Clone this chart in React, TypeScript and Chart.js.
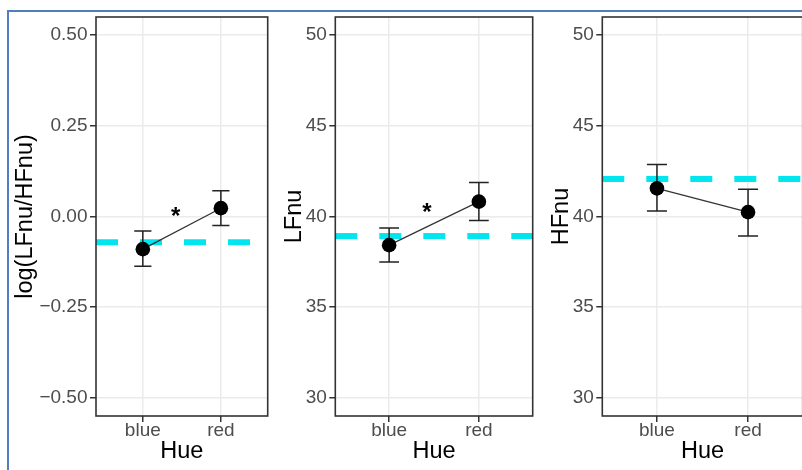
import React, { useEffect, useRef } from "react";
import { Chart, registerables } from "chart.js";

Chart.register(...registerables);

// ---------- data ----------
const CATEGORIES = ["blue", "red"];
const CAT_X = [1, 2];
const X_MIN = 0.4;
const X_MAX = 2.6;
const X_TITLE = "Hue";
const STAR_X = 1.42;

// panel 1: log(LFnu/HFnu)
const RATIO_TITLE = "log(LFnu/HFnu)";
const RATIO_MEAN = [-0.09, 0.023];
const RATIO_LOW = [-0.137, -0.025];
const RATIO_HIGH = [-0.04, 0.071];
const RATIO_REF = -0.071;
const RATIO_STAR = 0.017;
const RATIO_MIN = -0.55;
const RATIO_MAX = 0.55;
const RATIO_TICKS = [-0.5, -0.25, 0, 0.25, 0.5];
const RATIO_TICK_LABELS = ["\u22120.50", "\u22120.25", "0.00", "0.25", "0.50"];

// panel 2: LFnu
const LF_TITLE = "LFnu";
const LF_MEAN = [38.42, 40.82];
const LF_LOW = [37.49, 39.78];
const LF_HIGH = [39.36, 41.87];
const LF_REF = 38.92;
const LF_STAR = 40.58;

// panel 3: HFnu
const HF_TITLE = "HFnu";
const HF_MEAN = [41.55, 40.24];
const HF_LOW = [40.31, 38.92];
const HF_HIGH = [42.87, 41.5];
const HF_REF = 42.07;

// shared nu axis
const NU_MIN = 29;
const NU_MAX = 51;
const NU_TICKS = [30, 35, 40, 45, 50];
const NU_TICK_LABELS = ["30", "35", "40", "45", "50"];

// ---------- styles ----------
const FONT = '"Liberation Sans", Arial, Helvetica, sans-serif';
const CYAN = "#00E5EE";
const TICK_SIZE = 19;
const TITLE_SIZE = 23.5;
const STAR_SIZE = 24;
const H = 470;
const PLOT_TOP = 17;
const PLOT_BOTTOM = 416;
const ERR_HALF = 0.11;

type PanelProps = {
  canvasLeft: number;
  canvasWidth: number;
  plotLeft: number;
  plotRight: number;
  titleCenter: number;
  yTitle: string;
  yMin: number;
  yMax: number;
  yTicks: number[];
  yTickLabels: string[];
  mean: number[];
  low: number[];
  high: number[];
  refValue: number;
  star: number | null;
};

function Panel(p: PanelProps) {
  const ref = useRef<HTMLCanvasElement | null>(null);
  useEffect(() => {
    const canvas = ref.current;
    if (!canvas) return;
    const plugin = {
      id: "panelExtras",
      afterDatasetDraw(chart: any, args: any) {
        if (args.index !== 1) return;
        const { ctx, scales } = chart;
        const xs = scales.x;
        const ys = scales.y;
        ctx.save();
        ctx.strokeStyle = "#222";
        ctx.lineWidth = 1.5;
        CAT_X.forEach((cx, i) => {
          const px = xs.getPixelForValue(cx);
          const pl = xs.getPixelForValue(cx - ERR_HALF);
          const pr = xs.getPixelForValue(cx + ERR_HALF);
          const yt = ys.getPixelForValue(p.high[i]);
          const yb = ys.getPixelForValue(p.low[i]);
          ctx.beginPath();
          ctx.moveTo(px, yt);
          ctx.lineTo(px, yb);
          ctx.moveTo(pl, yt);
          ctx.lineTo(pr, yt);
          ctx.moveTo(pl, yb);
          ctx.lineTo(pr, yb);
          ctx.stroke();
        });
        ctx.restore();
      },
      afterDatasetsDraw(chart: any) {
        if (p.star === null) return;
        const { ctx, scales } = chart;
        const px = scales.x.getPixelForValue(STAR_X);
        const py = scales.y.getPixelForValue(p.star);
        ctx.save();
        ctx.fillStyle = "#000";
        ctx.font = `bold ${STAR_SIZE}px ${FONT}`;
        ctx.textAlign = "center";
        ctx.textBaseline = "alphabetic";
        ctx.fillText("*", px, py + 0.575 * STAR_SIZE);
        ctx.restore();
      },
      afterDraw(chart: any) {
        const { ctx, chartArea } = chart;
        ctx.save();
        ctx.strokeStyle = "#333";
        ctx.lineWidth = 1.6;
        ctx.strokeRect(
          chartArea.left,
          chartArea.top,
          chartArea.right - chartArea.left,
          chartArea.bottom - chartArea.top
        );
        ctx.restore();
      },
    };

    const titlePad = p.titleCenter - p.canvasLeft - (TITLE_SIZE * 1.2) / 2;
    const chart = new Chart(canvas, {
      type: "line",
      data: {
        datasets: [
          {
            label: "mean",
            data: CAT_X.map((x, i) => ({ x, y: p.mean[i] })),
            borderColor: "#333",
            borderWidth: 1.2,
            pointRadius: 7.3,
            pointHoverRadius: 7.3,
            pointBackgroundColor: "#000",
            pointBorderWidth: 0,
            fill: false,
            tension: 0,
          },
          {
            label: "reference",
            data: [
              { x: X_MIN, y: p.refValue },
              { x: X_MAX, y: p.refValue },
            ],
            borderColor: CYAN,
            borderWidth: 6,
            borderDash: [22, 22],
            borderCapStyle: "butt",
            pointRadius: 0,
            fill: false,
          },
        ],
      },
      options: {
        responsive: false,
        animation: false,
        events: [],
        layout: {
          padding: {
            left: 0,
            top: PLOT_TOP,
            bottom: 0,
            right: p.canvasWidth - (p.plotRight - p.canvasLeft),
          },
        },
        plugins: {
          legend: { display: false },
          tooltip: { enabled: false },
        },
        scales: {
          x: {
            type: "linear",
            min: X_MIN,
            max: X_MAX,
            afterBuildTicks: (axis: any) => {
              axis.ticks = CAT_X.map((v) => ({ value: v }));
            },
            afterFit: (s: any) => {
              s.height = H - PLOT_BOTTOM;
            },
            ticks: {
              callback: (_v: any, i: number) => CATEGORIES[i],
              color: "#4d4d4d",
              font: { family: FONT, size: TICK_SIZE },
              padding: -3,
              maxRotation: 0,
              autoSkip: false,
            },
            grid: {
              color: "#ebebeb",
              lineWidth: 1.5,
              tickColor: "#333",
              tickLength: 6,
              tickWidth: 1.5,
            },
            border: { display: false },
            title: {
              display: true,
              text: X_TITLE,
              color: "#000",
              font: { family: FONT, size: TITLE_SIZE },
              padding: { top: 0, bottom: 4 },
            },
          },
          y: {
            type: "linear",
            min: p.yMin,
            max: p.yMax,
            afterBuildTicks: (axis: any) => {
              axis.ticks = p.yTicks.map((v) => ({ value: v }));
            },
            afterFit: (s: any) => {
              s.width = p.plotLeft - p.canvasLeft;
            },
            ticks: {
              callback: (_v: any, i: number) => p.yTickLabels[i],
              color: "#4d4d4d",
              font: { family: FONT, size: TICK_SIZE },
              padding: 2.5,
              autoSkip: false,
            },
            grid: {
              color: "#ebebeb",
              lineWidth: 1.5,
              tickColor: "#333",
              tickLength: 6,
              tickWidth: 1.5,
            },
            border: { display: false },
            title: {
              display: true,
              text: p.yTitle,
              color: "#000",
              font: { family: FONT, size: TITLE_SIZE },
              padding: { top: titlePad, bottom: 0 },
            },
          },
        },
      },
      plugins: [plugin],
    } as any);
    return () => chart.destroy();
  }, []);

  return (
    <canvas
      ref={ref}
      width={p.canvasWidth}
      height={H}
      style={{
        position: "absolute",
        left: p.canvasLeft,
        top: 0,
        width: p.canvasWidth,
        height: H,
        display: "block",
      }}
    />
  );
}

export default function App() {
  return (
    <div
      style={{
        position: "absolute",
        left: 0,
        top: 0,
        width: 802,
        height: H,
        overflow: "hidden",
        background: "#fff",
      }}
    >
      <div
        style={{
          position: "absolute",
          left: 7,
          top: 10,
          width: 900,
          height: 600,
          borderTop: "2px solid #4f7fbf",
          borderLeft: "2px solid #4f7fbf",
        }}
      />
      <Panel
        canvasLeft={0}
        canvasWidth={275}
        plotLeft={96}
        plotRight={269.5}
        titleCenter={25.5}
        yTitle={RATIO_TITLE}
        yMin={RATIO_MIN}
        yMax={RATIO_MAX}
        yTicks={RATIO_TICKS}
        yTickLabels={RATIO_TICK_LABELS}
        mean={RATIO_MEAN}
        low={RATIO_LOW}
        high={RATIO_HIGH}
        refValue={RATIO_REF}
        star={RATIO_STAR}
      />
      <Panel
        canvasLeft={275}
        canvasWidth={265}
        plotLeft={335.3}
        plotRight={537.3}
        titleCenter={295}
        yTitle={LF_TITLE}
        yMin={NU_MIN}
        yMax={NU_MAX}
        yTicks={NU_TICKS}
        yTickLabels={NU_TICK_LABELS}
        mean={LF_MEAN}
        low={LF_LOW}
        high={LF_HIGH}
        refValue={LF_REF}
        star={LF_STAR}
      />
      <Panel
        canvasLeft={540}
        canvasWidth={270}
        plotLeft={602.3}
        plotRight={804.3}
        titleCenter={562}
        yTitle={HF_TITLE}
        yMin={NU_MIN}
        yMax={NU_MAX}
        yTicks={NU_TICKS}
        yTickLabels={NU_TICK_LABELS}
        mean={HF_MEAN}
        low={HF_LOW}
        high={HF_HIGH}
        refValue={HF_REF}
        star={null}
      />
    </div>
  );
}
